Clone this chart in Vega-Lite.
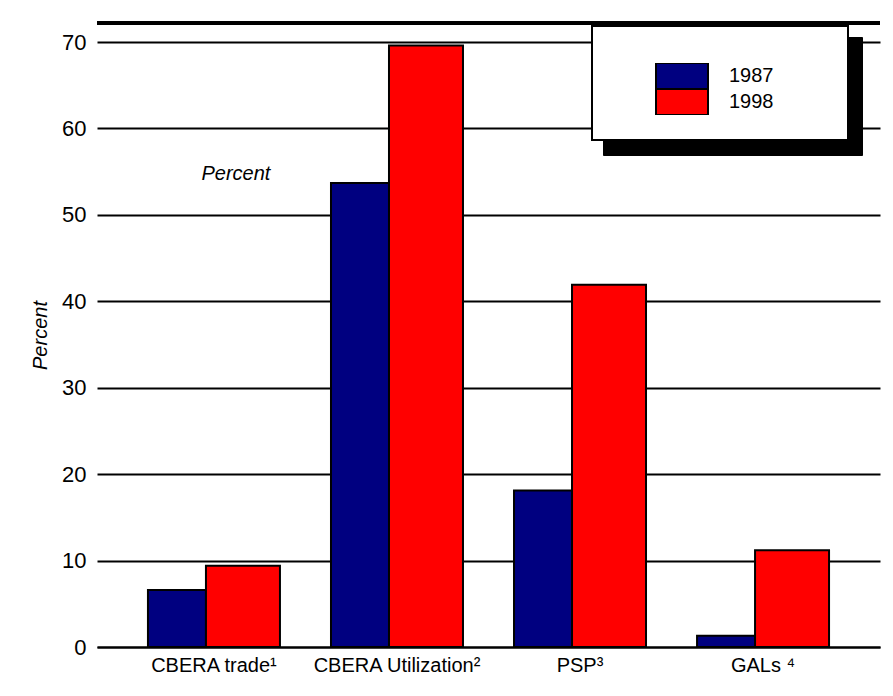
{
  "$schema": "https://vega.github.io/schema/vega-lite/v6.json",
  "autosize": "none",
  "width": 783,
  "height": 624,
  "padding": {"left": 97, "top": 23, "right": 13, "bottom": 49},
  "background": "white",
  "config": {"font": "Liberation Sans", "view": {"stroke": null}},
  "datasets": {
    "bars": [
      {"category": "CBERA trade¹", "year": "1987", "value": 6.6},
      {"category": "CBERA trade¹", "year": "1998", "value": 9.4},
      {"category": "CBERA Utilization²", "year": "1987", "value": 53.7},
      {"category": "CBERA Utilization²", "year": "1998", "value": 69.6},
      {"category": "PSP³", "year": "1987", "value": 18.1},
      {"category": "PSP³", "year": "1998", "value": 41.9},
      {"category": "GALs ⁴", "year": "1987", "value": 1.3},
      {"category": "GALs ⁴", "year": "1998", "value": 11.2}
    ]
  },
  "encoding": {
    "x": {
      "field": "category", "type": "nominal", "sort": null,
      "scale": {"paddingInner": 0, "paddingOuter": 0.139},
      "axis": {
        "title": null, "labelAngle": 0, "ticks": false, "domain": true,
        "domainColor": "black", "domainWidth": 2, "labelFontSize": 20,
        "labelColor": "black", "labelPadding": 8, "grid": false
      }
    },
    "y": {
      "field": "value", "type": "quantitative",
      "scale": {"domain": [0, 72.2], "nice": false, "zero": true},
      "axis": {
        "values": [0, 10, 20, 30, 40, 50, 60, 70],
        "grid": true, "gridColor": "black", "gridWidth": 2, "gridOpacity": 1,
        "domain": false, "ticks": false, "labelFontSize": 22, "labelColor": "black",
        "labelPadding": 11, "title": "Percent", "titleFontStyle": "italic",
        "titleFontWeight": "normal", "titleFontSize": 20, "titleColor": "black",
        "titlePadding": 11
      }
    }
  },
  "layer": [
    {
      "data": {"name": "bars"},
      "transform": [{"filter": "datum.year == '1987'"}],
      "mark": {"type": "bar", "width": 58, "xOffset": -37, "stroke": "black", "strokeWidth": 2},
      "encoding": {
        "y": {"field": "value", "type": "quantitative", "stack": null},
        "color": {
          "field": "year", "type": "nominal",
          "scale": {"range": ["#000080", "#ff0000"]},
          "legend": {
            "orient": "none", "legendX": 495, "legendY": 3, "zindex": 2,
            "title": "xxxxxxxxxxxxxxxxxxxxxxxxxxxxxxxxxxxxx", "titleOpacity": 0,
            "titleFontSize": 10, "titlePadding": 2, "titleLimit": 400,
            "padding": 25, "fillColor": "white", "strokeColor": "black",
            "symbolType": "M-2,-1H2V1H-2Z", "symbolSize": 676,
            "symbolStrokeColor": "black", "symbolStrokeWidth": 2, "symbolOpacity": 1,
            "symbolOffset": 51, "labelOffset": 33, "labelFontSize": 20, "labelColor": "black",
            "clipHeight": 26, "rowPadding": 0,
            "encode": {
              "legend": {"update": {"strokeWidth": {"value": 2}}}
            }
          }
        }
      }
    },
    {
      "data": {"name": "bars"},
      "transform": [{"filter": "datum.year == '1998'"}],
      "mark": {"type": "bar", "width": 74, "xOffset": 29, "stroke": "black", "strokeWidth": 2},
      "encoding": {
        "y": {"field": "value", "type": "quantitative", "stack": null},
        "color": {"field": "year", "type": "nominal"}
      }
    },
    {
      "data": {"name": "bars"},
      "mark": {"type": "point", "filled": true, "color": "black", "opacity": 0},
      "encoding": {
        "shape": {
          "field": "year", "type": "nominal",
          "scale": {"domain": ["1987", "1998"], "range": ["M-1,-1H14.3V1H-1Z", "M-1,-1H14.3V1H-1Z"]},
          "legend": {
            "orient": "none", "legendX": 506, "legendY": 14, "zindex": 1,
            "title": null,
            "padding": 28, "fillColor": "black", "strokeColor": "black",
            "symbolSize": 676, "symbolOffset": 0, "labelOffset": 0,
            "labelFontSize": 1, "labelColor": "black", "labelExpr": "''",
            "rowPadding": 0,
            "encode": {
              "legend": {"update": {"strokeWidth": {"value": 2}}}
            }
          }
        }
      }
    },
    {
      "data": {"values": [{"category": "CBERA trade¹", "value": 54.7, "label": "Percent"}]},
      "mark": {"type": "text", "dx": 22, "fontSize": 20, "fontStyle": "italic", "color": "black", "align": "center", "baseline": "middle"},
      "encoding": {"text": {"field": "label"}}
    },
    {
      "data": {"values": [{"top": 72.2}]},
      "mark": {"type": "rule", "color": "black", "strokeWidth": 4},
      "encoding": {"y": {"field": "top", "type": "quantitative"}, "x": null}
    }
  ]
}
